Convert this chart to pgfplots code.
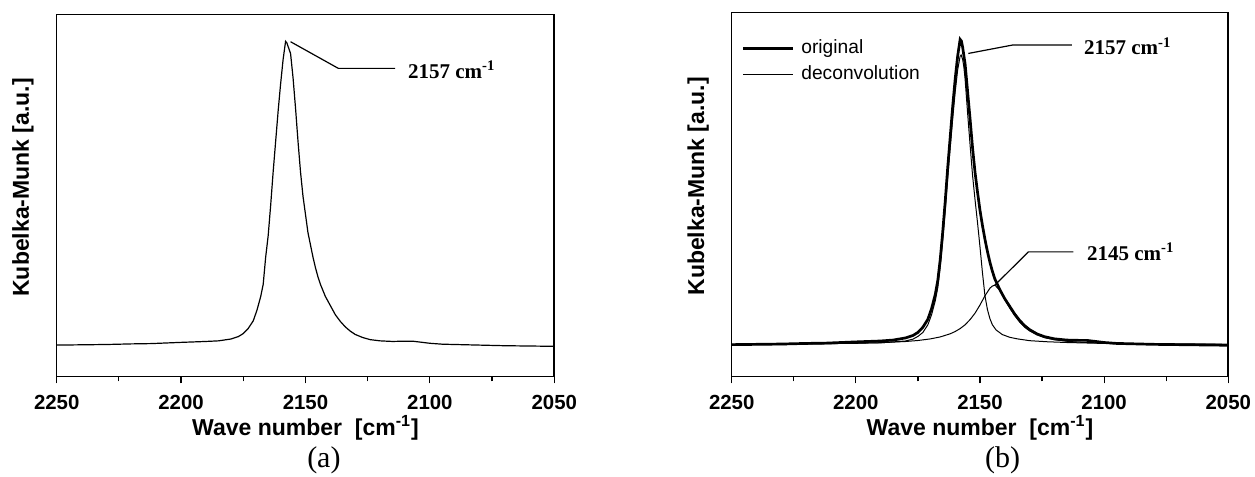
\documentclass[border=0pt]{standalone}
\usepackage{fontspec}
\setmainfont{Liberation Serif}
\setsansfont{Liberation Sans}
\usepackage{pgfplots}
\pgfplotsset{compat=1.18}

\pgfplotsset{
  spec/.style={
    scale only axis,
    x dir=reverse, xmin=2050, xmax=2250,
    xtick={2050,2100,2150,2200,2250},
    xticklabels={2050,2100,2150,2200,2250},
    minor xtick={2075,2125,2175,2225},
    ytick=\empty,
    xtick pos=bottom,
    tick align=outside,
    major tick length=3.3pt, minor tick length=2.3pt,
    tick style={black, line width=0.6pt},
    axis line style={line width=0.8pt, black},
    xticklabel style={font=\fontsize{10.2}{12}\selectfont\sffamily\bfseries},
    xticklabel shift=2.3pt,
    xlabel={Wave number\ \ [cm\textsuperscript{-1}]},
    xlabel style={font=\fontsize{11.5}{13}\selectfont\sffamily\bfseries,
      at={(axis description cs:0.5,0)}, anchor=base, yshift=-29.2pt},
    ylabel={Kubelka-Munk [a.u.]},
    ylabel style={font=\fontsize{11.5}{13}\selectfont\sffamily\bfseries,
      at={(axis description cs:-0.0557,0.523)}, anchor=base},
    clip=false,
  },
}
\tikzset{ann/.style={anchor=base west, font=\fontsize{10.5}{12}\selectfont\rmfamily\bfseries}}

\begin{document}
\begin{tikzpicture}
\useasboundingbox (0,0) rectangle (627.5pt,238.5pt);

% ---------------- (a) ----------------
\begin{axis}[spec, at={(28.35pt,50.15pt)}, anchor=south west,
  width=248.8pt, height=181pt, ymin=-0.104, ymax=1.0877]
\addplot[black, line width=0.6pt] coordinates {
(2250,0.000) (2240,0.001) (2230,0.002) (2220,0.004) (2212,0.005) (2200,0.009)
(2190,0.012) (2185,0.014) (2180,0.020) (2177,0.028) (2175,0.038) (2173,0.055)
(2171,0.080) (2169.5,0.115) (2168,0.16) (2167,0.20) (2166,0.29) (2165,0.36)
(2164,0.46) (2163,0.57) (2162,0.67) (2161,0.77) (2160,0.86) (2159,0.94)
(2158,1.00) (2157.5,0.995) (2156,0.96) (2155,0.88) (2154,0.78) (2153,0.67)
(2152,0.57) (2151,0.49) (2150,0.43) (2149,0.37) (2148,0.33) (2147,0.29)
(2146,0.255) (2145,0.225) (2144,0.20) (2142,0.16) (2140,0.13) (2138,0.10)
(2136,0.078) (2134,0.060) (2132,0.046) (2130,0.035) (2127,0.025) (2124,0.018)
(2120,0.014) (2115,0.012) (2110,0.013) (2107,0.013) (2104,0.010) (2100,0.006)
(2095,0.003) (2090,0.002) (2080,0.000) (2070,-0.002) (2060,-0.003) (2050,-0.004)
};
\addplot[black, line width=0.6pt] coordinates {(2156,0.9987) (2136.8,0.911) (2114,0.911)};
\node[ann] at (axis cs:2111.6,0.878) {2157 cm\textsuperscript{-1}};
\node[font=\fontsize{15}{17}\selectfont\rmfamily, anchor=base]
  at (axis description cs:0.537,0) [yshift=-45.6pt] {(a)};
\end{axis}

% ---------------- (b) ----------------
\begin{axis}[spec, at={(365.85pt,50.15pt)}, anchor=south west,
  width=248.3pt, height=182pt, ymin=-0.105, ymax=1.0875,
  legend style={at={(axis description cs:0,1)}, anchor=north west,
    xshift=5pt, yshift=-13.3pt, draw=none, fill=none, inner sep=0pt,
    font=\fontsize{9.6}{11}\selectfont\sffamily,
    nodes={inner sep=0pt}, row sep=4.7pt,
    /tikz/every odd column/.append style={column sep=3.65pt}},
  legend cell align=left,
  legend image code/.code={\draw[#1] (0pt,0pt) -- (24.65pt,0pt);}]
\addplot[black, line width=1.35pt] coordinates {
(2250,0.000) (2240,0.001) (2230,0.002) (2220,0.004) (2212,0.005) (2200,0.009)
(2190,0.012) (2185,0.015) (2180,0.022) (2177,0.030) (2175,0.040) (2173,0.057)
(2171,0.083) (2169.5,0.118) (2168,0.165) (2167,0.21) (2166,0.28) (2165,0.37)
(2164,0.47) (2163,0.58) (2162,0.68) (2161,0.78) (2160,0.87) (2159,0.945)
(2158,1.00) (2157.5,0.995) (2157,0.975) (2156,0.92) (2155,0.83) (2154,0.74)
(2153,0.645) (2152,0.565) (2151,0.50) (2150,0.44) (2149,0.39) (2148,0.345)
(2147,0.305) (2146,0.27) (2145,0.24) (2144,0.215) (2142,0.18) (2140,0.15)
(2138,0.125) (2136,0.10) (2134,0.079) (2132,0.062) (2130,0.049) (2127,0.035)
(2124,0.026) (2120,0.019) (2115,0.015) (2110,0.014) (2107,0.014) (2104,0.011)
(2100,0.007) (2095,0.004) (2090,0.003) (2080,0.001) (2070,0.000) (2060,-0.001)
(2050,-0.002)
};
\addlegendentry{original}
\addplot[black, line width=0.5pt] coordinates {
(2250,0.000) (2230,0.000) (2220,0.002) (2200,0.005) (2190,0.006) (2180,0.012)
(2177,0.018) (2175,0.027) (2173,0.040) (2171,0.065) (2169.5,0.098) (2168,0.144)
(2167,0.187) (2166,0.255) (2165,0.343) (2164,0.44) (2163,0.547) (2162,0.645)
(2161,0.74) (2160,0.827) (2159,0.90) (2158,0.945) (2157.6,0.949) (2157,0.935)
(2156.5,0.91) (2156,0.87) (2155,0.76) (2154,0.655) (2153,0.555) (2152,0.475)
(2151,0.40) (2150,0.32) (2149,0.235) (2148,0.16) (2147,0.115) (2146,0.085)
(2145,0.065) (2143.5,0.048) (2141,0.033) (2138,0.024) (2135,0.019) (2130,0.013)
(2123,0.0095) (2115,0.007) (2100,0.004) (2080,0.002) (2050,0.001)
};
\addlegendentry{deconvolution}
\addplot[black, line width=0.5pt, forget plot] coordinates {
(2250,0.0012) (2230,0.002) (2210,0.0035) (2200,0.0044) (2190,0.0064) (2180,0.0103)
(2175,0.0136) (2170,0.0188) (2166,0.0253) (2162,0.0356) (2160,0.043) (2158,0.0526)
(2156,0.065) (2154,0.082) (2152,0.103) (2150,0.130) (2148,0.160) (2146,0.185)
(2145,0.192) (2144,0.195) (2142,0.178) (2140,0.148) (2138,0.12) (2136,0.095)
(2134,0.074) (2132,0.057) (2130,0.045) (2127,0.032) (2124,0.023) (2120,0.016)
(2115,0.011) (2110,0.008) (2100,0.005) (2090,0.0035) (2070,0.002) (2050,0.0012)
};
\addplot[black, line width=0.6pt, forget plot] coordinates {(2154.7,0.954) (2136.6,0.982) (2113,0.982)};
\addplot[black, line width=0.6pt, forget plot] coordinates {(2144,0.195) (2130.5,0.304) (2112.4,0.304)};
\node[ann] at (axis cs:2110.9,0.949) {2157 cm\textsuperscript{-1}};
\node[ann] at (axis cs:2109.7,0.277) {2145 cm\textsuperscript{-1}};
\node[font=\fontsize{15}{17}\selectfont\rmfamily, anchor=base]
  at (axis description cs:0.5455,0) [yshift=-45.6pt] {(b)};
\end{axis}
\end{tikzpicture}
\end{document}
